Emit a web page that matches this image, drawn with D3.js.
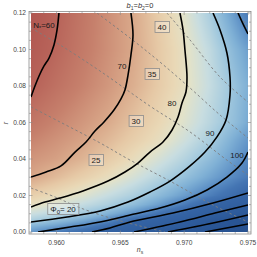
<!DOCTYPE html>
<html><head><meta charset="utf-8">
<script src="https://cdn.jsdelivr.net/npm/d3@7"></script>
<style>body{margin:0;background:#fff}svg{display:block}</style>
</head><body>
<svg id="c" width="257" height="257"></svg>
<script>
// ---------- data ----------
const nsGrid = [0.958,0.960,0.962,0.964,0.966,0.968,0.970,0.972,0.974,0.975];
const rGrid  = [0,0.003,0.006,0.01,0.015,0.02,0.03,0.04,0.05,0.06,0.08,0.10,0.12];
const nGrid = [
  [98.7,103.4,108.1,113.8,120,127.3,134.9,141,147,150],
  [94.5,97.9,102,108.2,114.1,119.9,124.4,133.7,140,143],
  [89,92.6,96.6,101.3,110.2,115,120.4,130.2,137.4,141],
  [84.5,87.1,89.7,94.5,99.6,105.9,112.4,119,126,130],
  [79.5,82.3,85.4,88.5,92.6,97.7,103.7,110.2,116.7,120.3],
  [76.2,78.7,81.6,85.1,88.6,93,97.9,103.1,108.5,112],
  [70,73,76.1,79.1,83,87.3,91.7,96.6,101.5,104],
  [67.8,69.3,71.9,75.3,78.8,83,87.5,92.6,98.5,101.5],
  [65.5,67.5,69.6,72.7,76,79.3,84,89.1,96,99],
  [63.2,65.6,68,70.5,74.1,77.6,81.7,86.9,92.5,96],
  [59.5,62.4,65.2,68,71.2,75.4,79.6,85.3,91.5,95],
  [57.3,60.5,63.8,67,70.3,75,79.8,86,94,97.5],
  [56,59.6,63.2,66.8,70.4,75.6,81.2,89,98.8,104]
];
const colorN   = [55,60,65,70,75,78,81,85,90,95,100,105,112,130,150];
const colorHex = ["#ae534e","#b8645a","#c6806c","#d8a688","#e6c9a6","#e9d8b6","#e2e2c9","#c8dde0","#a2c9de","#7fb0d5","#5c8fc5","#4475b3","#3463a4","#2b5898","#26508f"];

// solid contours of N
const N60  = [[0.96019,0.1200],[0.96004,0.1107],[0.95980,0.1025],[0.95941,0.0953],[0.95902,0.0910],[0.95863,0.0855],[0.95831,0.0800],[0.95800,0.0740]];
const N70  = [[0.96583,0.1200],[0.96599,0.1079],[0.96583,0.0970],[0.96560,0.0860],[0.96536,0.0778],[0.96505,0.0729],[0.96450,0.0668],[0.96372,0.0603],[0.96301,0.0553],[0.96231,0.0493],[0.96145,0.0438],[0.96035,0.0362],[0.95918,0.0329],[0.95800,0.0301]];
const N80  = [[0.96967,0.1200],[0.96991,0.1107],[0.97006,0.0997],[0.97022,0.0849],[0.97014,0.0767],[0.96983,0.0707],[0.96952,0.0630],[0.96905,0.0559],[0.96834,0.0493],[0.96732,0.0438],[0.96638,0.0378],[0.96536,0.0329],[0.96403,0.0279],[0.96207,0.0225],[0.96027,0.0186],[0.95910,0.0164],[0.95800,0.0137]];
const N90  = [[0.97226,0.1200],[0.97281,0.1107],[0.97335,0.0981],[0.97359,0.0849],[0.97359,0.0751],[0.97328,0.0614],[0.97257,0.0521],[0.97163,0.0438],[0.97046,0.0362],[0.96889,0.0279],[0.96732,0.0219],[0.96560,0.0164],[0.96341,0.0115],[0.96082,0.0082],[0.95800,0.0055]];
const N100a = [[0.97422,0.1200],[0.97461,0.1140],[0.97500,0.1085]];
const N100b = [[0.97500,0.0438],[0.97453,0.0378],[0.97335,0.0301],[0.97179,0.0230],[0.97006,0.0175],[0.96811,0.0131],[0.96576,0.0093],[0.96341,0.0055],[0.96106,0.0027],[0.95855,0.0000]];
const N110 = [[0.96278,0],[0.96419,0.0022],[0.96576,0.0055],[0.96912,0.0104],[0.97226,0.0159],[0.97500,0.0214]];
const N120 = [[0.96607,0],[0.96967,0.0055],[0.97241,0.0104],[0.97500,0.0148]];
const N130 = [[0.96873,0],[0.97226,0.0049],[0.97500,0.0093]];
const N140 = [[0.97163,0],[0.97500,0.0044]];
const solidContours = [N60,N70,N80,N90,N100a,N100b,N110,N120,N130,N140];

// dashed contours of Phi0
const P20 = [[0.95800,0.0241],[0.95988,0.0192],[0.96168,0.0137],[0.96419,0.0077],[0.96654,0.0033],[0.96850,0]];
const P25 = [[0.95800,0.0685],[0.96027,0.0603],[0.96341,0.0488],[0.96576,0.0394],[0.96889,0.0279],[0.97226,0.0148],[0.97500,0.0055]];
const P30 = [[0.95800,0.1118],[0.96027,0.1025],[0.96341,0.0882],[0.96732,0.0690],[0.97046,0.0548],[0.97335,0.0394],[0.97500,0.0312]];
const P35 = [[0.96317,0.1200],[0.96576,0.1063],[0.96811,0.0931],[0.97046,0.0789],[0.97281,0.0641],[0.97500,0.0515]];
const P40 = [[0.96865,0.1200],[0.97046,0.1052],[0.97281,0.0849],[0.97500,0.0712]];
const P45 = [[0.97414,0.1200],[0.97500,0.1123]];
const dashedContours = [P20,P25,P30,P35,P40,P45];

const nLabelText = ["70","80","90","100"];
const nLabelPos  = [[0.96513,0.0910],[0.96905,0.0707],[0.97202,0.0542],[0.97414,0.0422]];
const pLabelText = ["40","35","30","25"];
const pLabelPos  = [[0.96826,0.1123],[0.96748,0.0866],[0.96623,0.0608],[0.96309,0.0394]];
const phi20Pos = [0.96051,0.0126];
const nStarPos = [0.95902,0.1134];

const xTicks = [0.960,0.965,0.970,0.975];
const xTickLabels = ["0.960","0.965","0.970","0.975"];
const yTicks = [0,0.02,0.04,0.06,0.08,0.10,0.12];
const yTickLabels = ["0.00","0.02","0.04","0.06","0.08","0.10","0.12"];

// ---------- drawing ----------
const svg = d3.select("#c");
const x = d3.scaleLinear().domain([0.958,0.975]).range([31,248]);
const y = d3.scaleLinear().domain([0,0.12]).range([232,13]);
const X0=29, X1=251, Y0=11.5, Y1=234;

// background raster
const cw=217, ch=219;
const cv=document.createElement("canvas"); cv.width=cw; cv.height=ch;
const ctx=cv.getContext("2d");
const img=ctx.createImageData(cw,ch);
const col=d3.scaleLinear().domain(colorN).range(colorHex).clamp(true);
function idx(arr,v){let i=d3.bisectRight(arr,v)-1;return Math.max(0,Math.min(arr.length-2,i));}
for(let j=0;j<ch;j++){
  const r=y.invert(13+j+0.5);
  const jr=idx(rGrid,r); const tr=Math.max(0,Math.min(1,(r-rGrid[jr])/(rGrid[jr+1]-rGrid[jr])));
  for(let i=0;i<cw;i++){
    const ns=x.invert(31+i+0.5);
    const ic=idx(nsGrid,ns); const tc=Math.max(0,Math.min(1,(ns-nsGrid[ic])/(nsGrid[ic+1]-nsGrid[ic])));
    const a=nGrid[jr][ic]*(1-tc)+nGrid[jr][ic+1]*tc;
    const b=nGrid[jr+1][ic]*(1-tc)+nGrid[jr+1][ic+1]*tc;
    const c=d3.rgb(col(a*(1-tr)+b*tr));
    const k=(j*cw+i)*4;
    img.data[k]=c.r;img.data[k+1]=c.g;img.data[k+2]=c.b;img.data[k+3]=255;
  }
}
ctx.putImageData(img,0,0);
svg.append("image").attr("x",31).attr("y",13).attr("width",cw).attr("height",ch)
  .attr("preserveAspectRatio","none").attr("href",cv.toDataURL());

svg.append("clipPath").attr("id","clip").append("rect")
  .attr("x",31).attr("y",13).attr("width",217).attr("height",219);
const g=svg.append("g").attr("clip-path","url(#clip)");
const line=d3.line().x(d=>x(d[0])).y(d=>y(d[1])).curve(d3.curveCatmullRom.alpha(0.5));

g.selectAll(".dash").data(dashedContours).join("path")
  .attr("d",line).attr("fill","none").attr("stroke","#7d7d7d")
  .attr("stroke-width",0.9).attr("stroke-dasharray","2.5,2.5");
g.selectAll(".solid").data(solidContours).join("path")
  .attr("d",line).attr("fill","none").attr("stroke","#000")
  .attr("stroke-width",1.6).attr("stroke-linejoin","round");

// N labels
const FONT="'Liberation Sans', Arial, sans-serif";
svg.selectAll(".nl").data(nLabelText).join("text")
  .attr("x",(d,i)=>x(nLabelPos[i][0])).attr("y",(d,i)=>y(nLabelPos[i][1])+3)
  .attr("text-anchor","middle").attr("font-family",FONT).attr("font-size",8)
  .attr("fill","#1a1a1a").text(d=>d);
const ns=svg.append("text").attr("x",x(nStarPos[0])).attr("y",y(nStarPos[1])+3)
  .attr("text-anchor","middle").attr("font-family",FONT).attr("font-size",8).attr("fill","#1a1a1a");
ns.append("tspan").text("N");
ns.append("tspan").attr("font-size",5.5).attr("dy",2).text("*");
ns.append("tspan").attr("dy",-2).text("=60");

// boxed Phi labels
function boxLabel(px,py,build){
  const gg=svg.append("g");
  const rect=gg.append("rect");
  const t=gg.append("text").attr("x",px).attr("y",py+3).attr("text-anchor","middle")
    .attr("font-family",FONT).attr("font-size",8).attr("fill","#1a1a1a");
  build(t);
  const bb=t.node().getBBox();
  rect.attr("x",bb.x-2.5).attr("y",py-5.5).attr("width",bb.width+5).attr("height",11)
    .attr("fill","rgba(255,255,255,0.25)").attr("stroke","#8c8c8c").attr("stroke-width",0.8);
}
pLabelText.forEach((s,i)=>boxLabel(x(pLabelPos[i][0]),y(pLabelPos[i][1]),t=>t.text(s)));
boxLabel(x(phi20Pos[0]),y(phi20Pos[1]),t=>{
  t.append("tspan").text("Φ");
  t.append("tspan").attr("font-size",6).attr("dy",1.5).text("0");
  t.append("tspan").attr("dy",-1.5).text("= 20");
});

// frame
const fc="#8a8a8a";
svg.append("rect").attr("x",X0).attr("y",Y0).attr("width",X1-X0).attr("height",Y1-Y0)
  .attr("fill","none").attr("stroke",fc).attr("stroke-width",0.8);
const xMinor=d3.range(0.958,0.97501,0.001);
const yMinor=d3.range(0,0.12001,0.005);
const tk=svg.append("g").attr("stroke",fc).attr("stroke-width",0.6);
xMinor.forEach(v=>{const major=xTicks.some(t=>Math.abs(t-v)<1e-6);const L=major?3.5:2;
  tk.append("line").attr("x1",x(v)).attr("x2",x(v)).attr("y1",Y1).attr("y2",Y1-L);
  tk.append("line").attr("x1",x(v)).attr("x2",x(v)).attr("y1",Y0).attr("y2",Y0+L);});
yMinor.forEach(v=>{const major=yTicks.some(t=>Math.abs(t-v)<1e-6);const L=major?3.5:2;
  tk.append("line").attr("y1",y(v)).attr("y2",y(v)).attr("x1",X0).attr("x2",X0+L);
  tk.append("line").attr("y1",y(v)).attr("y2",y(v)).attr("x1",X1).attr("x2",X1-L);});

svg.selectAll(".xt").data(xTicks).join("text").attr("x",d=>x(d)).attr("y",244.5)
  .attr("text-anchor","middle").attr("font-family",FONT).attr("font-size",6.6).attr("fill","#444")
  .text((d,i)=>xTickLabels[i]);
svg.selectAll(".yt").data(yTicks).join("text").attr("x",26).attr("y",d=>y(d)+2.4)
  .attr("text-anchor","end").attr("font-family",FONT).attr("font-size",6.6).attr("fill","#444")
  .text((d,i)=>yTickLabels[i]);

// axis labels & title
const xl=svg.append("text").attr("x",140).attr("y",252).attr("text-anchor","middle")
  .attr("font-family",FONT).attr("font-size",7).attr("fill","#444");
xl.append("tspan").attr("font-style","italic").text("n");
xl.append("tspan").attr("font-size",5).attr("dy",1.5).text("s");
svg.append("text").attr("transform","translate(8,123) rotate(-90)").attr("text-anchor","middle")
  .attr("font-family",FONT).attr("font-size",7).attr("font-style","italic").attr("fill","#444").text("r");
const tt=svg.append("text").attr("x",140).attr("y",8).attr("text-anchor","middle")
  .attr("font-family",FONT).attr("font-size",7.5).attr("fill","#333");
tt.append("tspan").attr("font-style","italic").text("b");
tt.append("tspan").attr("font-size",5).attr("dy",1.5).text("1");
tt.append("tspan").attr("dy",-1.5).text("=");
tt.append("tspan").attr("font-style","italic").text("b");
tt.append("tspan").attr("font-size",5).attr("dy",1.5).text("2");
tt.append("tspan").attr("dy",-1.5).text("=0");
</script>
</body></html>
